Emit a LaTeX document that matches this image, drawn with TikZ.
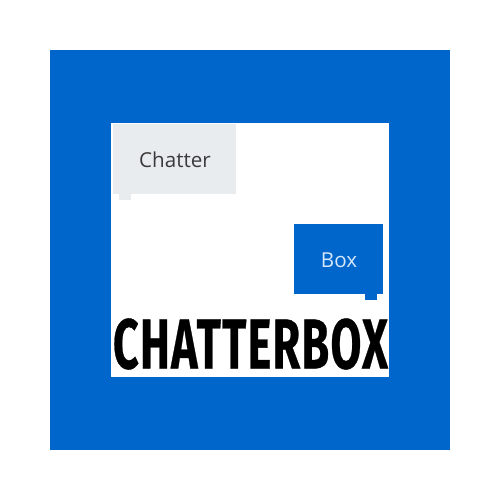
\documentclass[tikz,border=0pt]{standalone}
\usepackage{fontspec}
\usepackage{graphicx}
\setmainfont{Open Sans}
\newfontfamily\titlefont[FakeBold=0.6,LetterSpace=3]{Fira Sans Bold}
\definecolor{brandblue}{HTML}{0066CC}
\definecolor{chatgrey}{HTML}{E9ECEF}
\definecolor{chattext}{HTML}{3A3A3A}
\definecolor{boxtext}{HTML}{D6E8FA}
\tikzset{
  x=1pt,y=-1pt,
  flat/.style={draw=none,inner sep=0pt,outer sep=0pt},
  label text/.style={inner sep=0pt,font=\fontsize{20.6}{24}\selectfont}
}
\begin{document}
\begin{tikzpicture}
\useasboundingbox (0,0) rectangle (500,500);
\fill[white] (0,0) rectangle (500,500);
\fill[brandblue] (50,50) rectangle (450,450);
\fill[white] (111,123) rectangle (389,377);
\fill[chatgrey] (113,124) rectangle (236,194);
\fill[chatgrey] (119,194) rectangle (131,200);
\fill[brandblue] (293.5,223.5) rectangle (383,294);
\fill[brandblue] (365,294) rectangle (377,299.5);
\node[flat,label text,text=chattext] (chatter) at (175,160) {Chatter};
\node[flat,label text,text=boxtext] (box) at (339,260) {Box};
\node[flat,anchor=center] (title) at (250.5,344) {\resizebox{275pt}{50pt}{\titlefont CHATTERBOX}};
\end{tikzpicture}
\end{document}
